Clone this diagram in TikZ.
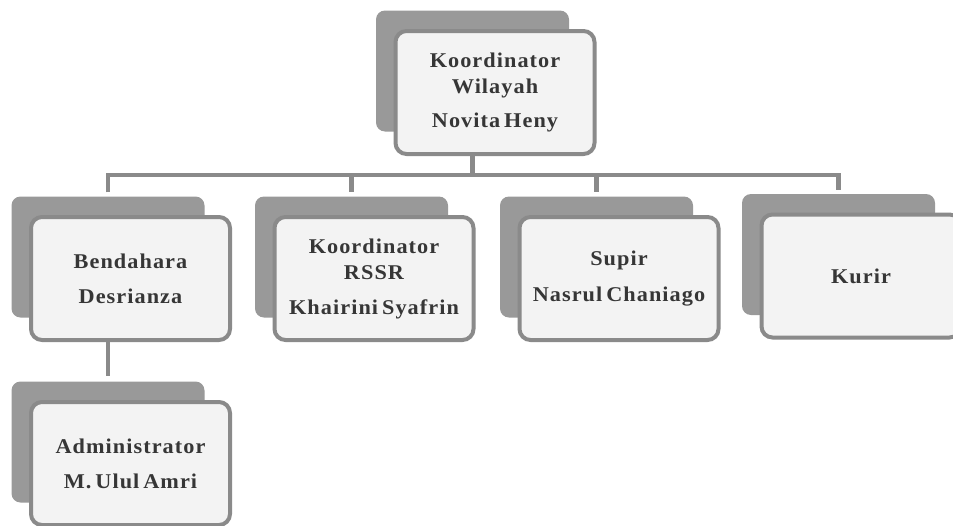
\documentclass[tikz,border=0pt]{standalone}
\usepackage{fontspec}
\usepackage{tikz}
\usetikzlibrary{calc}
\newfontfamily\orgfont[LetterSpace=5,FakeStretch=1.06,WordSpace=0.6]{Liberation Serif}
\definecolor{lineGray}{HTML}{8A8A8A}
\definecolor{shadeGray}{HTML}{999999}
\definecolor{paneFill}{HTML}{F3F3F3}
\definecolor{inkGray}{HTML}{363636}
\tikzset{
  backbox/.style={fill=shadeGray,rounded corners=9pt,minimum width=193pt,
    minimum height=121pt,inner sep=0pt},
  frontbox/.style={draw=lineGray,line width=4pt,fill=paneFill,rounded corners=11pt,
    minimum width=199pt,minimum height=123pt,inner sep=2pt,align=center,text=inkGray,
    font=\orgfont\bfseries\fontsize{21}{26}\selectfont},
  link/.style={draw=lineGray,line width=4.5pt}
}
\begin{document}
\begin{tikzpicture}[x=1pt,y=-1pt]
  \useasboundingbox (0,0) rectangle (953,525);
  \fill[white] (0,0) rectangle (953,525);
  % boxes: back panel first, then the framed front panel
  \foreach \n/\x/\y/\txt in {kw/495/92.5/{Koordinator\\Wilayah\\[8pt]Novita Heny},
      bd/130.5/278.5/{Bendahara\\[9pt]Desrianza},
      rs/374/278.5/{Koordinator\\RSSR\\[9pt]Khairini Syafrin},
      sp/619/278.5/{Supir\\[10pt]Nasrul Chaniago},
      kr/861/276/{Kurir},
      ad/130.5/463.5/{Administrator\\[9pt]M. Ulul Amri}} {
    \node[backbox] (\n-b) at ({\x-22.5},{\y-21.5}) {};
    \node[frontbox] (\n-f) at (\x,\y) {\txt};
  }
  \coordinate (bus) at (0,175);
  % connectors
  \draw[link] (kw-f.south -| kw-b) -- (kw-b |- bus);
  \draw[link] ([yshift=4pt]bd-b.north) |- (kr-b |- bus) -- ([yshift=4pt]kr-b.north);
  \foreach \n in {rs,sp}
    \draw[link] (\n-b |- bus) -- ([yshift=4pt]\n-b.north);
  \draw[link] (bd-f.south -| bd-b) -- ([yshift=5pt]ad-b.north);
\end{tikzpicture}
\end{document}
